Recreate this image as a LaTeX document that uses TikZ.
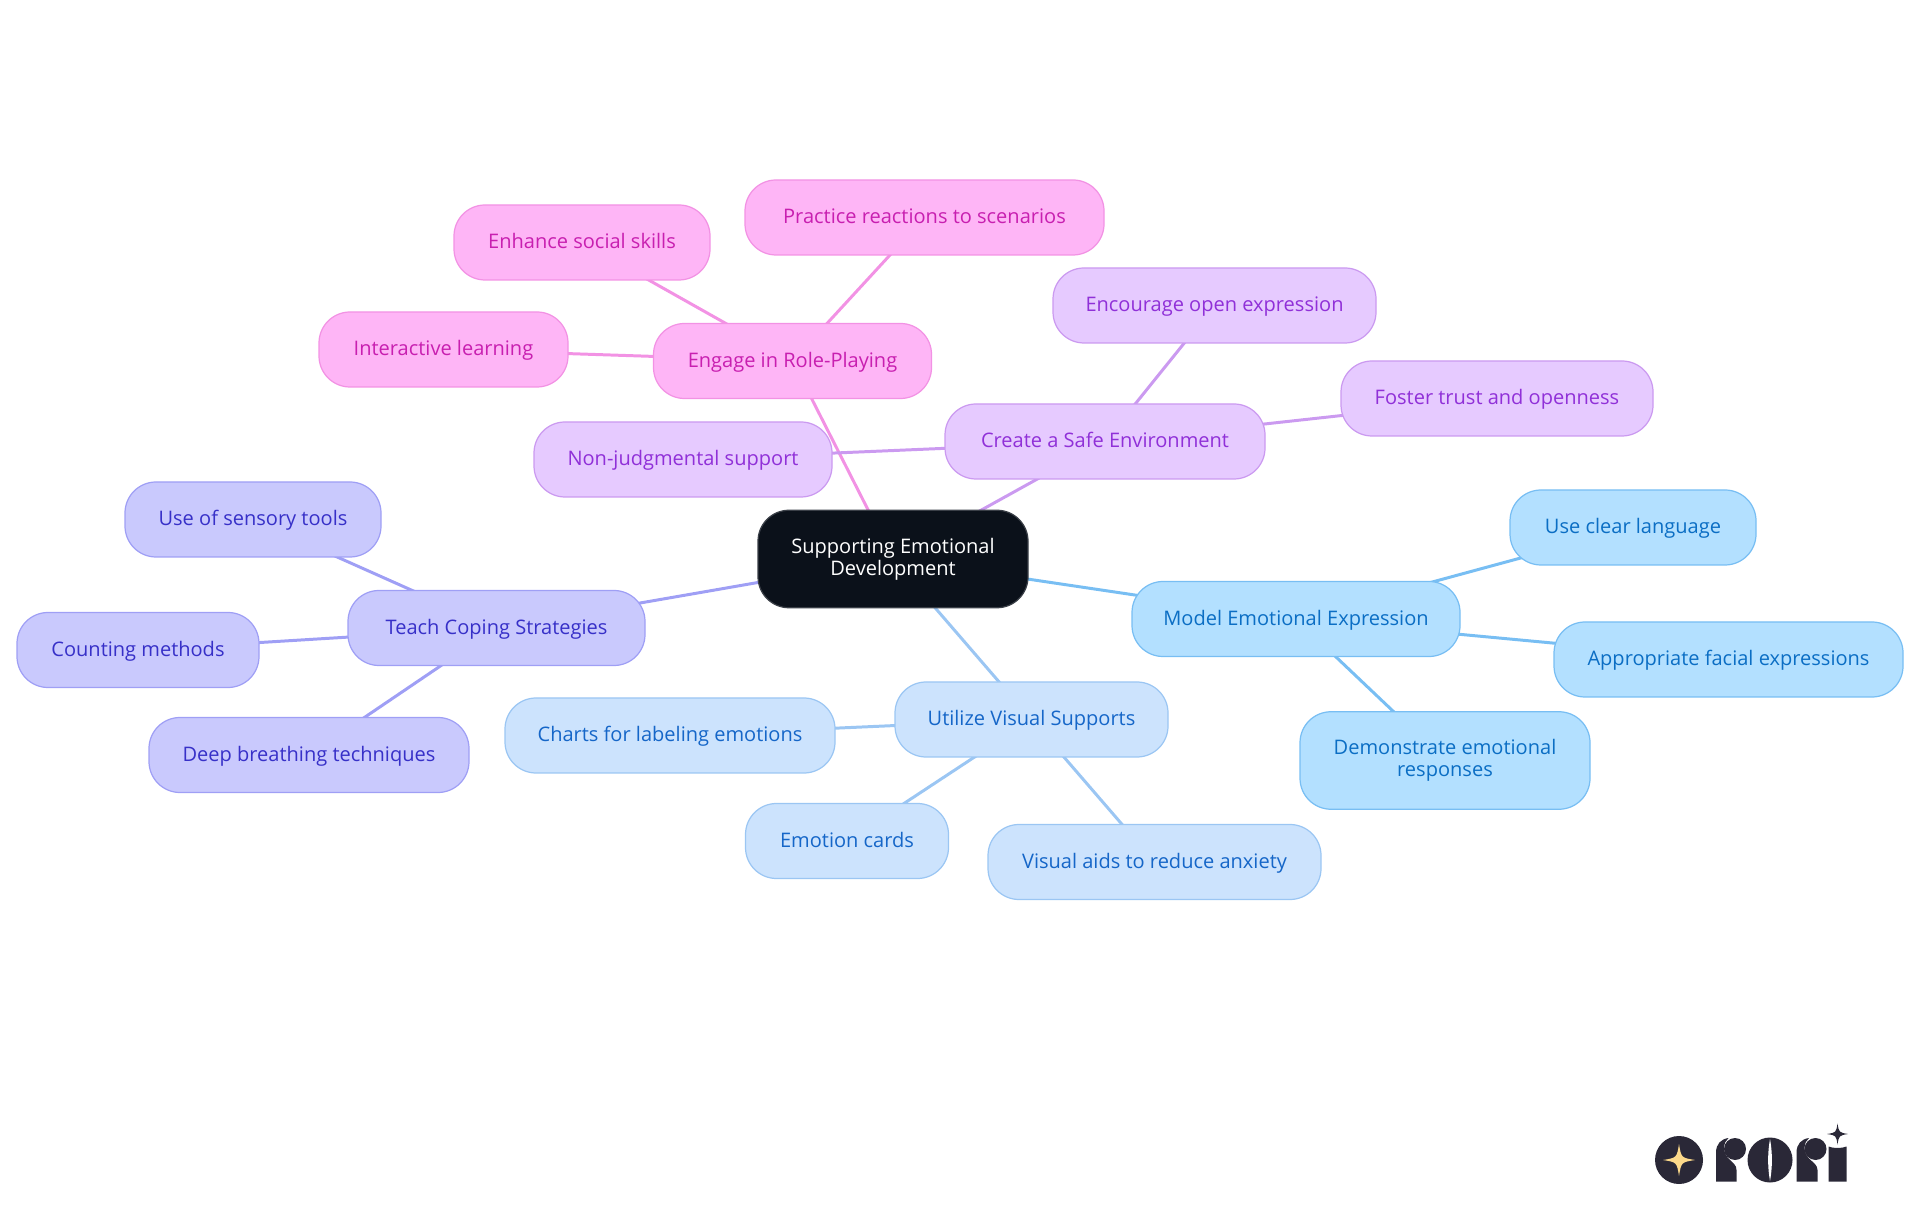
\documentclass[tikz,border=0pt]{standalone}
\usepackage{fontspec}
\setmainfont{Open Sans}
\usetikzlibrary{backgrounds}
\definecolor{rootfill}{HTML}{0B111A}
\definecolor{rootline}{HTML}{3A3F47}
\definecolor{skyfill}{HTML}{B3E0FF}
\definecolor{skyline}{HTML}{78BEF3}
\definecolor{skytext}{HTML}{0B6EC4}
\definecolor{bluefill}{HTML}{CCE3FD}
\definecolor{blueline}{HTML}{9BC6F3}
\definecolor{bluetext}{HTML}{1566C8}
\definecolor{indigofill}{HTML}{C9C9FD}
\definecolor{indigoline}{HTML}{9F9FF5}
\definecolor{indigotext}{HTML}{3730C8}
\definecolor{pinkfill}{HTML}{FEB5F6}
\definecolor{pinkline}{HTML}{F292E4}
\definecolor{pinktext}{HTML}{C81FB0}
\definecolor{purplefill}{HTML}{E6CAFF}
\definecolor{purpleline}{HTML}{CB9AF0}
\definecolor{purpletext}{HTML}{9030D8}
\definecolor{logodark}{HTML}{2A2837}
\definecolor{logostar}{HTML}{FCD98A}
\tikzset{
  mapbox/.style={rounded corners=0.62cm, line width=0.7pt, align=center, inner sep=0pt,
    minimum height=1.5cm, text height=0.35cm, text depth=0.1cm,
    font=\fontsize{11.4pt}{12.65pt}\selectfont},
  twolines/.style={text height=, text depth=, minimum height=1.95cm},
  rootbox/.style={mapbox, fill=rootfill, draw=rootline, text=white},
  skybox/.style={mapbox, fill=skyfill, draw=skyline, text=skytext},
  bluebox/.style={mapbox, fill=bluefill, draw=blueline, text=bluetext},
  indigobox/.style={mapbox, fill=indigofill, draw=indigoline, text=indigotext},
  pinkbox/.style={mapbox, fill=pinkfill, draw=pinkline, text=pinktext},
  purplebox/.style={mapbox, fill=purplefill, draw=purpleline, text=purpletext},
  linkline/.style={line width=1.7pt},
  sparkle/.pic={
    \fill (1,0) .. controls (0.14,0.14) .. (0,1) .. controls (-0.14,0.14) .. (-1,0)
      .. controls (-0.14,-0.14) .. (0,-1) .. controls (0.14,-0.14) .. (1,0) -- cycle;
  }
}
\begin{document}
\begin{tikzpicture}
    \useasboundingbox (0,0) rectangle (38.4,24.3);

    % Root
    \node[rootbox, twolines, minimum width=5.4cm] (root) at (17.86,13.12) {Supporting Emotional\\Development};

    % Model
    \node[skybox, minimum width=6.56cm] (model) at (25.92,11.92) {Model Emotional Expression};
    \node[skybox, minimum width=4.92cm] (clear) at (32.66,13.75) {Use clear language};
    \node[skybox, minimum width=6.98cm] (facial) at (34.57,11.11) {Appropriate facial expressions};
    \node[skybox, twolines, minimum width=5.8cm] (demo) at (28.90,9.09) {Demonstrate emotional\\responses};

    % Visual
    \node[bluebox, minimum width=5.46cm] (visual) at (20.63,9.91) {Utilize Visual Supports};
    \node[bluebox, minimum width=6.60cm] (charts) at (13.40,9.59) {Charts for labeling emotions};
    \node[bluebox, minimum width=4.06cm] (cards) at (16.94,7.48) {Emotion cards};
    \node[bluebox, minimum width=6.66cm] (aids) at (23.09,7.06) {Visual aids to reduce anxiety};

    % Coping
    \node[indigobox, minimum width=5.94cm] (coping) at (9.93,11.74) {Teach Coping Strategies};
    \node[indigobox, minimum width=5.12cm] (sensory) at (5.06,13.91) {Use of sensory tools};
    \node[indigobox, minimum width=4.84cm] (counting) at (2.76,11.30) {Counting methods};
    \node[indigobox, minimum width=6.40cm] (breathing) at (6.18,9.20) {Deep breathing techniques};

    % Role play
    \node[pinkbox, minimum width=5.56cm] (role) at (15.85,17.08) {Engage in Role-Playing};
    \node[pinkbox, minimum width=5.12cm] (social) at (11.64,19.45) {Enhance social skills};
    \node[pinkbox, minimum width=7.18cm] (scenarios) at (18.49,19.95) {Practice reactions to scenarios};
    \node[pinkbox, minimum width=4.98cm] (interactive) at (8.87,17.31) {Interactive learning};

    % Safe environment
    \node[purplebox, minimum width=6.40cm] (safe) at (22.10,15.47) {Create a Safe Environment};
    \node[purplebox, minimum width=6.46cm] (open) at (24.29,18.19) {Encourage open expression};
    \node[purplebox, minimum width=6.24cm] (trust) at (29.94,16.33) {Foster trust and openness};
    \node[purplebox, minimum width=5.96cm] (nonjudg) at (13.66,15.11) {Non-judgmental support};

    % Links
    \begin{scope}[on background layer]
        \draw[linkline, skyline] (root.center) -- (model.center);
        \draw[linkline, skyline] (model.center) -- (clear.center);
        \draw[linkline, skyline] (model.center) -- (facial.center);
        \draw[linkline, skyline] (model.center) -- (demo.center);
        \draw[linkline, blueline] (root.center) -- (visual.center);
        \draw[linkline, blueline] (visual.center) -- (charts.center);
        \draw[linkline, blueline] (visual.center) -- (cards.center);
        \draw[linkline, blueline] (visual.center) -- (aids.center);
        \draw[linkline, indigoline] (root.center) -- (coping.center);
        \draw[linkline, indigoline] (coping.center) -- (sensory.center);
        \draw[linkline, indigoline] (coping.center) -- (counting.center);
        \draw[linkline, indigoline] (coping.center) -- (breathing.center);
        \draw[linkline, pinkline] (root.center) -- (role.center);
        \draw[linkline, pinkline] (role.center) -- (social.center);
        \draw[linkline, pinkline] (role.center) -- (scenarios.center);
        \draw[linkline, pinkline] (role.center) -- (interactive.center);
        \draw[linkline, purpleline] (root.center) -- (safe.center);
        \draw[linkline, purpleline] (safe.center) -- (open.center);
        \draw[linkline, purpleline] (safe.center) -- (trust.center);
        \draw[linkline, purpleline] (safe.center) -- (nonjudg.center);
    \end{scope}

    % Logo
    \fill[logodark] (33.58,1.10) circle (0.48);
    \pic[logostar, scale=0.32] at (33.58,1.10) {sparkle};
    % first r
    \fill[logodark] (34.32,0.67) -- (34.32,1.25) .. controls (34.32,1.42) and (34.42,1.52) .. (34.57,1.54)
        .. controls (34.47,1.46) and (34.44,1.28) .. (34.56,1.14) .. controls (34.66,1.04) and (34.73,1.00) .. (34.73,0.90) -- (34.73,0.67) -- cycle;
    \fill[logodark] (34.70,1.32) circle (0.22);
    % o
    \fill[logodark] (35.40,1.10) circle (0.45);
    \fill[white] (35.40,1.52) .. controls (35.35,1.25) and (35.35,0.95) .. (35.40,0.68)
        .. controls (35.45,0.95) and (35.45,1.25) .. (35.40,1.52) -- cycle;
    % second r
    \fill[logodark] (35.93,0.67) -- (35.93,1.25) .. controls (35.93,1.42) and (36.03,1.52) .. (36.18,1.54)
        .. controls (36.08,1.46) and (36.05,1.28) .. (36.17,1.14) .. controls (36.27,1.04) and (36.35,1.00) .. (36.35,0.90) -- (36.35,0.67) -- cycle;
    \fill[logodark] (36.31,1.32) circle (0.22);
    % i
    \fill[logodark] (36.57,0.67) -- (36.57,1.37) .. controls (36.66,1.33) and (36.84,1.33) .. (36.93,1.37) -- (36.93,0.67) -- cycle;
    \pic[logodark, scale=0.21] at (36.75,1.62) {sparkle};
\end{tikzpicture}
\end{document}
